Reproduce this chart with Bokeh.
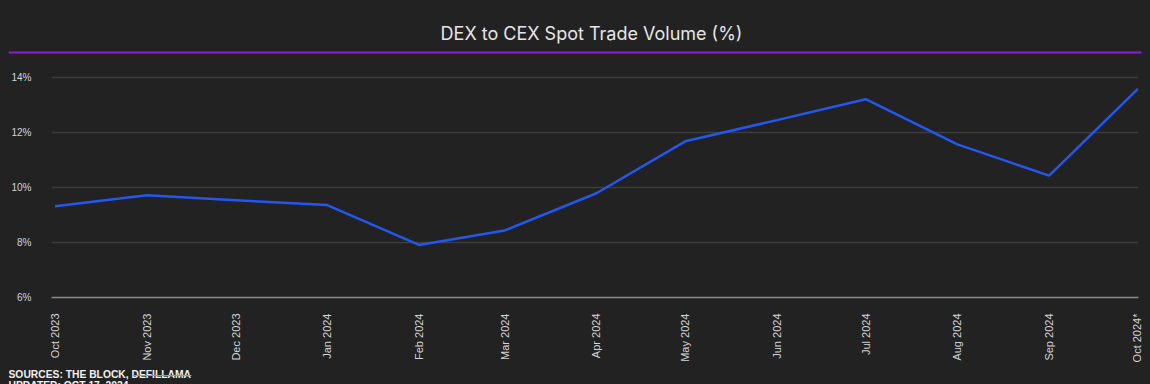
import math
import pandas as pd
from bokeh.plotting import figure
from bokeh.models import Range1d, FixedTicker, PrintfTickFormatter
from bokeh.core.properties import value
from bokeh.embed import file_html
from bokeh.resources import INLINE

# ---------------- data ----------------
months = ["2023-10-01", "2023-11-01", "2023-12-01", "2024-01-01", "2024-02-01",
          "2024-03-01", "2024-04-01", "2024-05-01", "2024-06-01", "2024-07-01",
          "2024-08-01", "2024-09-01", "2024-10-01"]
month_labels = ["Oct 2023", "Nov 2023", "Dec 2023", "Jan 2024", "Feb 2024",
                "Mar 2024", "Apr 2024", "May 2024", "Jun 2024", "Jul 2024",
                "Aug 2024", "Sep 2024", "Oct 2024*"]
dex_to_cex_pct = [9.32, 9.72, 9.54, 9.36, 7.91, 8.44, 9.79, 11.68, 12.45, 13.21,
                  11.57, 10.43, 13.59]
y_ticks = [6, 8, 10, 12, 14]
title_text = "DEX to CEX Spot Trade Volume (%)"
source_text = "SOURCES: THE BLOCK, DEFILLAMA"
updated_text = "UPDATED: OCT 17, 2024"

# ---------------- style ----------------
BG = "#222222"
W = 1134

dates = pd.to_datetime(months)
day_offset = [int((d - dates[0]).days) for d in dates]

def blank(h):
    f = figure(width=W, height=h, x_range=Range1d(0, W), y_range=Range1d(0, h),
               toolbar_location=None, output_backend="svg",
               x_axis_location=None, y_axis_location=None, min_border=0)
    f.grid.visible = False
    f.outline_line_color = None
    f.background_fill_color = BG
    f.border_fill_color = BG
    return f

# header
header = blank(56)
header.text(x=[583], y=[31], text=[title_text], text_font=value("Inter"),
            text_font_size="18px", text_color="#e6e6e6", text_align="center",
            text_baseline="alphabetic")
header.segment(x0=[0], y0=[12], x1=[1133], y1=[12], line_color="#8a1fd6", line_width=2)

# main chart
p = figure(width=W, height=301, x_range=Range1d(-1.2, 366.2), y_range=Range1d(6, 14.4),
           toolbar_location=None, output_backend="svg",
           min_border_left=43, min_border_right=4, min_border_top=2, min_border_bottom=68)
p.background_fill_color = BG
p.border_fill_color = BG
p.outline_line_color = None

p.line(day_offset, dex_to_cex_pct, line_color="#2357ee", line_width=2.5)

p.xgrid.visible = False
p.ygrid.ticker = FixedTicker(ticks=y_ticks)
p.ygrid.grid_line_color = "#3d3d3d"
p.ygrid.grid_line_width = 1.5

xa = p.xaxis[0]
xa.ticker = FixedTicker(ticks=day_offset)
xa.major_label_overrides = {d: lbl for d, lbl in zip(day_offset, month_labels)}
xa.major_label_orientation = math.pi / 2
xa.axis_line_color = "#8c8c8c"
xa.axis_line_width = 1.5
xa.major_tick_line_color = None
xa.minor_tick_line_color = None
xa.major_label_standoff = 10
xa.major_label_text_font = "Liberation Sans"
xa.major_label_text_font_size = "11px"
xa.major_label_text_color = "#d4d4d4"

ya = p.yaxis[0]
ya.ticker = FixedTicker(ticks=y_ticks)
ya.formatter = PrintfTickFormatter(format="%d%%")
ya.axis_line_color = None
ya.major_tick_line_color = None
ya.minor_tick_line_color = None
ya.major_label_standoff = 14
ya.major_label_text_font = "Liberation Sans"
ya.major_label_text_font_size = "10px"
ya.major_label_text_color = "#d4d4d4"

# footer
footer = blank(19)
footer.text(x=[0], y=[10.5], text=[source_text], text_font=value("Liberation Sans"),
            text_font_size="10.3px", text_font_style="bold", text_color="#f0f0f0",
            text_baseline="alphabetic")
footer.text(x=[0], y=[-1], text=[updated_text], text_font=value("Liberation Sans"),
            text_font_size="10.3px", text_font_style="bold", text_color="#f0f0f0",
            text_baseline="alphabetic")
footer.segment(x0=[124], y0=[9], x1=[183], y1=[9], line_color="#9a9a9a", line_width=1)

html = file_html([header, p, footer], INLINE)
html = html.replace("</head>", "<style>html,body{background:#222222;} body{margin:8px 8px 0 8px;line-height:0;}</style></head>", 1)
open("out.html", "w").write(html)
